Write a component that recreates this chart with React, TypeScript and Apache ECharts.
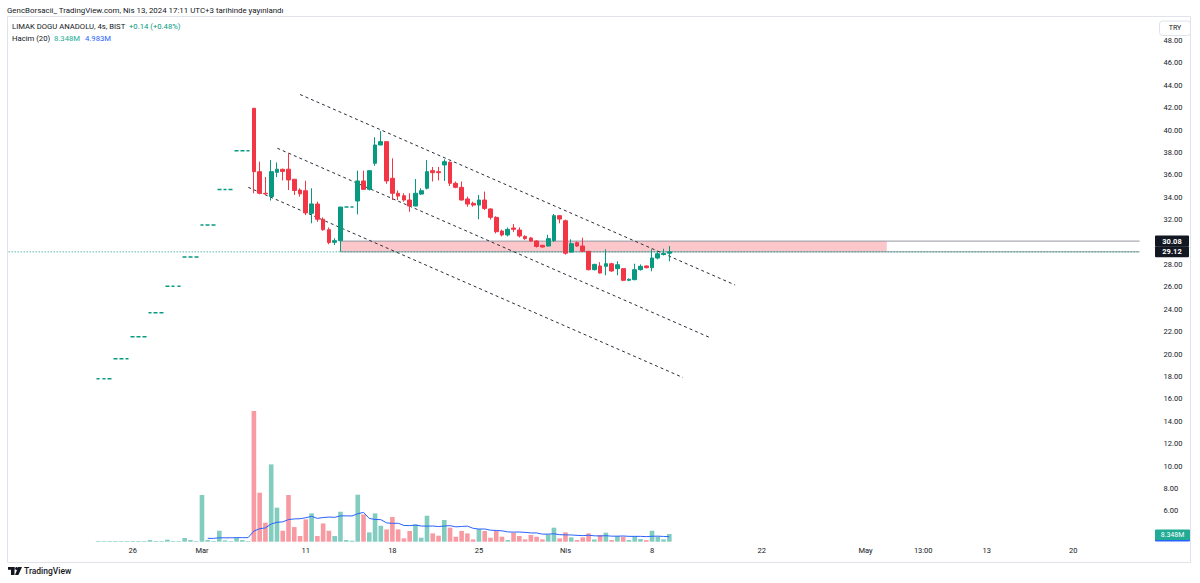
import React, { useEffect, useRef } from "react";
import * as echarts from "echarts";

// ---------- layout of the time scale (one slot per 4h bar) ----------
const SLOT_COUNT = 196;
const FIRST_BAR = 15; // slot of the first bar (Feb 22, 10:00)

const tickLabels: [number, string][] = [
  [21, "26"], [33, "Mar"], [51, "11"], [66, "18"], [81, "25"], [96, "Nis"],
  [111, "8"], [130, "22"], [148, "May"], [158, "13:00"], [169, "13"], [184, "20"],
];

// ---------- price bars (slots 15 .. 114) ----------
const barOpen = [
  17.8, 17.8, 17.8, 19.58, 19.58, 19.58, 21.54, 21.54, 21.54, 23.69, 23.69, 23.69,
  26.06, 26.06, 26.06, 28.66, 28.66, 28.66, 31.52, 31.52, 31.52, 34.68, 34.68, 34.68,
  38.14, 38.14, 38.14,
  41.94, 36.28, 34.35, 34.05, 36.22, 36.49, 36.5, 35.6, 34.64, 34.58, 32.56, 33.39,
  32.03, 31.1, 29.97, 30.12, 33.12, 33.12, 33.66, 35.45, 34.7, 37.03, 38.66, 38.96,
  35.69, 34.35, 34.13, 33.75, 33.21, 34.28, 34.8, 36.37, 36.28, 36.88, 37.12, 35.24,
  34.88, 33.84, 33.45, 33.3, 33.75, 32.95, 32.2, 30.98, 30.63, 31.25, 31.07, 30.5,
  30.36, 30.09, 29.7, 29.64, 30.12, 32.35, 31.9, 29.1, 29.94, 29.64, 29.17, 27.53,
  27.86, 27.83, 28.06, 27.62, 27.62, 26.58, 26.64, 27.53, 27.86, 27.71, 28.57, 28.88,
  29.0,
];
const barClose = [
  17.8, 17.8, 17.8, 19.58, 19.58, 19.58, 21.54, 21.54, 21.54, 23.69, 23.69, 23.69,
  26.06, 26.06, 26.06, 28.66, 28.66, 28.66, 31.52, 31.52, 31.52, 34.68, 34.68, 34.68,
  38.14, 38.14, 38.14,
  36.28, 34.35, 34.3, 36.28, 36.5, 36.3, 35.54, 34.6, 34.3, 32.6, 33.4, 32.03,
  31.1, 29.95, 30.12, 33.12, 33.12, 33.12, 35.45, 34.7, 36.37, 38.66, 38.96, 35.45,
  34.35, 34.1, 33.75, 33.21, 34.35, 34.58, 36.28, 36.19, 36.19, 37.17, 35.24, 34.88,
  33.75, 33.39, 33.3, 33.75, 33.0, 32.2, 30.92, 30.63, 31.13, 31.13, 30.54, 30.3,
  30.09, 29.6, 29.55, 30.3, 32.35, 32.05, 29.0, 29.85, 29.64, 29.17, 27.53, 28.0,
  27.23, 28.06, 27.41, 27.97, 26.58, 26.67, 27.53, 27.83, 27.71, 28.57, 28.95, 28.98,
  29.12,
];
const barLow = [
  17.8, 17.8, 17.8, 19.58, 19.58, 19.58, 21.54, 21.54, 21.54, 23.69, 23.69, 23.69,
  26.06, 26.06, 26.06, 28.66, 28.66, 28.66, 31.52, 31.52, 31.52, 34.68, 34.68, 34.68,
  38.14, 38.14, 38.14,
  34.35, 34.26, 34.2, 33.7, 35.8, 35.5, 34.64, 34.2, 34.05, 32.4, 31.67, 31.8,
  31.0, 29.8, 29.73, 29.12, 33.12, 33.12, 32.47, 34.64, 34.6, 36.8, 38.66, 35.2,
  33.75, 33.75, 33.6, 32.7, 33.2, 34.2, 34.7, 35.4, 35.5, 35.45, 35.0, 34.8,
  33.7, 33.15, 33.15, 32.03, 32.85, 32.0, 30.77, 30.5, 30.5, 30.9, 30.4, 30.2,
  30.0, 29.5, 29.5, 29.6, 30.0, 31.67, 28.87, 29.05, 29.55, 29.1, 27.46, 27.46,
  27.17, 27.03, 27.35, 27.03, 26.5, 26.5, 26.58, 27.45, 27.65, 27.38, 28.45, 28.8,
  28.28,
];
const barHigh = [
  17.8, 17.8, 17.8, 19.58, 19.58, 19.58, 21.54, 21.54, 21.54, 23.69, 23.69, 23.69,
  26.06, 26.06, 26.06, 28.66, 28.66, 28.66, 31.52, 31.52, 31.52, 34.68, 34.68, 34.68,
  38.14, 38.14, 38.14,
  41.94, 37.17, 35.8, 37.32, 37.1, 36.55, 37.92, 35.6, 34.8, 35.47, 34.8, 33.6,
  32.2, 31.3, 30.33, 33.12, 33.12, 33.12, 36.37, 36.37, 36.4, 39.35, 39.9, 38.96,
  37.47, 34.6, 34.35, 34.35, 35.62, 34.8, 37.32, 36.7, 36.7, 37.38, 37.2, 35.4,
  35.4, 34.05, 33.6, 34.2, 34.5, 33.0, 32.3, 31.1, 31.3, 31.6, 31.3, 30.6,
  30.45, 30.15, 29.75, 30.65, 32.5, 32.4, 32.0, 30.24, 30.05, 30.38, 29.2, 28.05,
  28.2, 29.35, 28.15, 28.28, 27.65, 26.75, 28.06, 28.0, 27.9, 29.35, 29.17, 29.4,
  29.64,
];
// volume in millions
const barVolume = [
  0.7, 0.7, 0.7, 0.7, 0.7, 0.7, 0.7, 0.7, 0.7, 1.8, 0.7, 0.7,
  2.2, 0.7, 0.7, 4.0, 1.8, 0.7, 50.6, 1.8, 0.7, 11.9, 1.4, 0.7,
  4.3, 1.8, 0.7,
  141.7, 53.1, 20.6, 83.8, 36.9, 11.9, 50.6, 15.9, 6.2, 24.2, 30.7, 6.2,
  19.8, 11.9, 6.2, 32.5, 1.8, 1.1, 50.9, 29.6, 10.1, 30.7, 17.3, 13.3,
  26.8, 13.3, 3.6, 11.6, 18.8, 4.3, 28.2, 9.0, 6.5, 23.5, 15.2, 5.4,
  11.6, 9.0, 2.5, 13.8, 11.6, 4.3, 11.6, 5.4, 1.8, 9.8, 6.2, 2.5,
  7.3, 5.4, 2.5, 7.9, 15.2, 3.6, 10.1, 4.7, 1.8, 4.7, 9.0, 2.5,
  7.3, 9.8, 1.8, 6.2, 5.4, 1.8, 6.2, 2.9, 1.8, 11.9, 5.4, 2.5,
  8.348,
];
// volume moving average (20), slots 34 .. 114
const MA_FIRST = 34;
const volumeMA = [
  3.6, 3.6, 4.2, 4.2, 4.2, 4.4, 4.4, 4.4,
  11.5, 14.1, 15.0, 19.2, 21.0, 21.5, 24.0, 24.7, 24.9, 26.0,
  27.5, 25.3, 26.2, 26.7, 26.4, 28.0, 28.0, 27.9, 30.3, 31.8,
  25.2, 24.1, 23.9, 20.4, 19.9, 20.0, 17.6, 17.4, 18.0, 17.0,
  16.9, 17.0, 16.4, 17.0, 17.4, 16.1, 16.5, 16.9, 14.5, 13.7,
  13.8, 12.5, 12.2, 11.8, 10.6, 10.4, 10.5, 10.1, 9.5, 9.5,
  8.2, 8.2, 8.6, 7.6, 7.4, 7.3, 6.9, 6.6, 7.0, 6.4,
  6.2, 6.5, 6.0, 6.0, 6.2, 5.8, 5.8, 5.8, 5.5, 5.9,
  6.0, 5.7, 5.4,
];

// ---------- drawings ----------
const trendLineStart: [number, number][] = [[50.0, 43.17], [46.06, 38.37], [41.03, 34.88]];
const trendLineEnd: [number, number][] = [[125.4, 26.16], [121.2, 21.43], [116.35, 17.9]];
const zoneTop = 30.08;
const zoneBottom = 29.12;
const zoneStart = 57;
const zoneEnd = 151.7;
const lastPrice = 29.12;
const lastVolume = 8.348;
const lastVolumeMA = 4.983;

const UP = "#089981";
const DOWN = "#f23645";
const TEXT = "#131722";
const FONT = "Roboto";

export default function App() {
  const ref = useRef<HTMLDivElement>(null);

  useEffect(() => {
    const chart = echarts.init(ref.current!, undefined, { renderer: "svg" });
    const categories = Array.from({ length: SLOT_COUNT }, (_, i) => String(i));
    const labelMap = new Map<number, string>(tickLabels);

    const candleData: any[] = [];
    const volData: any[] = [];
    const maData: any[] = [];
    for (let i = 0; i < FIRST_BAR + barOpen.length; i++) {
      if (i < FIRST_BAR) {
        candleData.push(["-", "-", "-", "-"]);
        volData.push("-");
      } else {
        const k = i - FIRST_BAR;
        const o = barOpen[k], c = barClose[k], l = barLow[k], h = barHigh[k];
        const flat = o === c && l === h;
        if (flat) {
          candleData.push({
            value: [o, c, l, h],
            itemStyle: { color: UP, color0: UP, borderColor: UP, borderColor0: UP, borderColorDoji: UP, borderWidth: 1.5 },
          });
        } else {
          candleData.push([o, c, l, h]);
        }
        volData.push({
          value: barVolume[k],
          itemStyle: { color: c >= o ? "rgba(8,153,129,0.5)" : "rgba(242,54,69,0.5)" },
        });
      }
      maData.push(i >= MA_FIRST ? volumeMA[i - MA_FIRST] : "-");
    }

    const gridLeft = 8.66;
    const gridRight = 60.4;

    const trendSeries = trendLineStart.map((s, j) => ({
      type: "line",
      xAxisIndex: 1,
      yAxisIndex: 0,
      data: [s, trendLineEnd[j]],
      symbol: "none",
      silent: true,
      z: 4,
      lineStyle: { color: "#2a2e39", width: 1, type: [3, 3] },
    }));

    const option: any = {
      animation: false,
      backgroundColor: "#ffffff",
      textStyle: { fontFamily: FONT },
      grid: [
        { left: gridLeft, right: gridRight, top: 40.4, height: 470.4 },
        { left: gridLeft, right: gridRight, top: 394.1, bottom: 41.3 },
      ],
      xAxis: [
        { type: "category", gridIndex: 0, data: categories, show: false, boundaryGap: true },
        { type: "value", gridIndex: 0, min: -0.5, max: SLOT_COUNT - 0.5, show: false },
        {
          type: "category",
          gridIndex: 1,
          data: categories,
          boundaryGap: true,
          axisLine: { show: false },
          axisTick: { show: false },
          splitLine: { show: false },
          axisLabel: {
            interval: (idx: number) => labelMap.has(idx),
            formatter: (_v: string, idx: number) => labelMap.get(idx) ?? "",
            fontSize: 7.5,
            color: TEXT,
            fontFamily: FONT,
            margin: 4.5,
          },
        },
      ],
      yAxis: [
        {
          type: "value",
          gridIndex: 0,
          position: "right",
          min: 6,
          max: 48,
          interval: 2,
          axisLine: { show: false },
          axisTick: { show: false },
          splitLine: { show: false },
          axisLabel: {
            formatter: (v: number) => v.toFixed(2),
            align: "left",
            margin: 24,
            fontSize: 7.5,
            color: TEXT,
            fontFamily: FONT,
          },
        },
        { type: "value", gridIndex: 1, min: 0, max: 160, show: false },
      ],
      series: [
        {
          type: "bar",
          xAxisIndex: 2,
          yAxisIndex: 1,
          data: volData,
          barWidth: 4.6,
          silent: true,
          z: 1,
        },
        {
          type: "line",
          xAxisIndex: 2,
          yAxisIndex: 1,
          data: maData,
          symbol: "none",
          silent: true,
          z: 2,
          lineStyle: { color: "#2962ff", width: 1 },
        },
        {
          type: "line",
          xAxisIndex: 1,
          yAxisIndex: 0,
          data: [[zoneStart, zoneTop], [SLOT_COUNT - 0.5, zoneTop]],
          symbol: "none",
          silent: true,
          z: 1,
          lineStyle: { color: "#9598a1", width: 1 },
          markArea: {
            silent: true,
            itemStyle: { color: "rgba(242,54,69,0.28)" },
            data: [[{ coord: [zoneStart, zoneTop] }, { coord: [zoneEnd, zoneBottom] }]],
          },
        },
        {
          type: "line",
          xAxisIndex: 1,
          yAxisIndex: 0,
          data: [[zoneStart, zoneBottom], [SLOT_COUNT - 0.5, zoneBottom]],
          symbol: "none",
          silent: true,
          z: 1,
          lineStyle: { color: "#9598a1", width: 1 },
        },
        {
          type: "line",
          xAxisIndex: 1,
          yAxisIndex: 0,
          data: [[-0.5, lastPrice], [SLOT_COUNT - 0.5, lastPrice]],
          symbol: "none",
          silent: true,
          z: 2,
          lineStyle: { color: UP, width: 1, type: [1, 2] },
        },
        ...trendSeries,
        {
          type: "candlestick",
          xAxisIndex: 0,
          yAxisIndex: 0,
          data: candleData,
          barWidth: 4.2,
          silent: true,
          z: 5,
          itemStyle: {
            color: UP,
            color0: DOWN,
            borderColor: UP,
            borderColor0: DOWN,
            borderWidth: 1,
          },
        },
      ],
    };
    chart.setOption(option);

    const py = (v: number) => chart.convertToPixel({ yAxisIndex: 0 }, v) as number;
    const vy = (v: number) => chart.convertToPixel({ yAxisIndex: 1 }, v) as number;

    const txt = (x: number, y: number, text: string, fill: string, size: number, extra: any = {}, z = 110) => ({
      type: "text",
      x,
      y,
      z,
      silent: true,
      style: {
        text,
        fill,
        fontSize: size,
        fontFamily: FONT,
        align: "left",
        textAlign: "left",
        verticalAlign: "middle",
        textVerticalAlign: "middle",
        ...extra,
      },
    });

    const priceBox = (text: string, bg: string, yPos: number) => [
      {
        type: "rect",
        z: 100,
        silent: true,
        shape: { x: 1155, y: yPos - 5.5, width: 34, height: 11, r: 1 },
        style: { fill: bg },
      },
      txt(1172, yPos, text, "#ffffff", 7.5, { align: "center", textAlign: "center", fontWeight: "bold" }),
    ];

    const volY = vy(lastVolume);
    const maY = vy(lastVolumeMA);

    const graphic: any[] = [
      {
        type: "rect",
        z: 90,
        silent: true,
        shape: { x: 7.5, y: 16.5, width: 1183, height: 546 },
        style: { fill: "none", stroke: "#e0e3eb", lineWidth: 1 },
      },
      txt(7, 10, "GencBorsacii_ TradingView.com, Nis 13, 2024 17:11 UTC+3 tarihinde yayınlandı", TEXT, 7.9),
      txt(12, 26, "LIMAK DOGU ANADOLU, 4s, BIST", TEXT, 7.7),
      txt(129, 26, "+0.14 (+0.48%)", UP, 7.7),
      txt(12, 38, "Hacim (20)", TEXT, 7.7),
      txt(54, 38, "8.348M", "#22ab94", 7.7),
      txt(85, 38, "4.983M", "#2962ff", 7.7),
      {
        type: "rect",
        z: 100,
        silent: true,
        shape: { x: 1159.5, y: 21, width: 31, height: 14.5, r: 3 },
        style: { fill: "#ffffff", stroke: "#e0e3eb", lineWidth: 1 },
      },
      txt(1175, 28.3, "TRY", TEXT, 7, { align: "center", textAlign: "center" }),
      ...priceBox(zoneTop.toFixed(2), TEXT, py(zoneTop)),
      ...priceBox(zoneBottom.toFixed(2), TEXT, py(zoneBottom)),
      {
        type: "rect",
        z: 100,
        silent: true,
        shape: { x: 1155, y: maY - 5.5, width: 35, height: 10, r: 1 },
        style: { fill: "#2962ff" },
      },
      {
        type: "rect",
        z: 101,
        silent: true,
        shape: { x: 1155, y: volY - 4.5, width: 35, height: 10.5, r: 1 },
        style: { fill: "#22ab94" },
      },
      txt(1172.5, volY + 0.7, lastVolume.toFixed(3) + "M", "#ffffff", 7, {
        align: "center",
        textAlign: "center",
      }, 120),
      // TradingView logo
      { type: "rect", z: 100, silent: true, shape: { x: 8, y: 567, width: 6.5, height: 2.8 }, style: { fill: TEXT } },
      { type: "rect", z: 100, silent: true, shape: { x: 11, y: 567, width: 3.5, height: 8 }, style: { fill: TEXT } },
      { type: "circle", z: 100, silent: true, shape: { cx: 16.6, cy: 568.6, r: 1.5 }, style: { fill: TEXT } },
      {
        type: "polygon",
        z: 100,
        silent: true,
        shape: { points: [[18.2, 567], [22, 567], [18.4, 575], [15, 575]] },
        style: { fill: TEXT },
      },
      txt(24, 571.2, "TradingView", TEXT, 8.5, { fontWeight: 500 }),
    ];
    chart.setOption({ graphic });

    return () => chart.dispose();
  }, []);

  return (
    <div
      ref={ref}
      style={{ position: "absolute", left: 0, top: 0, width: 1200, height: 583, background: "#ffffff" }}
    />
  );
}
